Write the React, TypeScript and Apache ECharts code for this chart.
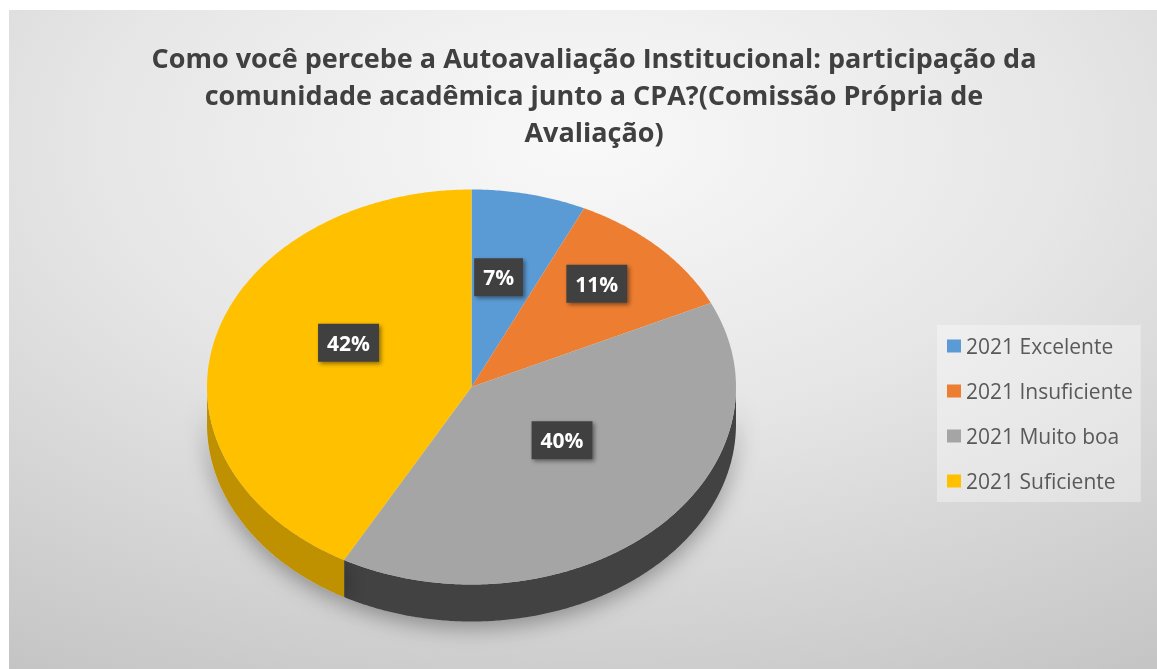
import React, { useEffect, useRef } from "react";
import * as echarts from "echarts";

const CATEGORIES = ["2021 Excelente", "2021 Insuficiente", "2021 Muito boa", "2021 Suficiente"];
const VALUES = [7, 11, 40, 42];
const TITLE_LINES = [
  "Como você percebe a Autoavaliação Institucional: participação da",
  "comunidade acadêmica junto a CPA?(Comissão Própria de",
  "Avaliação)",
];

const TOP_COLORS = ["#5B9BD5", "#ED7D31", "#A5A5A5", "#FFC000"];
const SIDE_COLORS = ["#41719C", "#AE5A21", "#424242", "#BF9000"];
// label placement factors (fraction of radii along the slice's mid angle)
const LABEL_FX = [0.47, 0.67, 0.5, 0.48];
const LABEL_FY = [0.57, 0.74, 0.37, 0.9];

// geometry (chart pixel coordinates)
const CX = 462.5;
const CY = 377;
const RX = 264.5;
const RY = 197.5;
const DEPTH = 37;

const FONT = '"Open Sans", "Noto Sans", sans-serif';

function pt(deg: number, fx = 1, fy = 1, dy = 0): number[] {
  const r = (deg * Math.PI) / 180;
  return [CX + RX * fx * Math.sin(r), CY - RY * fy * Math.cos(r) + dy];
}

function angles(i: number): [number, number] {
  const total = VALUES.reduce((a, b) => a + b, 0);
  let before = 0;
  for (let k = 0; k < i; k++) before += VALUES[k];
  return [(before / total) * 360, ((before + VALUES[i]) / total) * 360];
}

function arc(a0: number, a1: number, dy = 0): number[][] {
  const pts: number[][] = [];
  for (let t = a0; t < a1; t += 0.5) pts.push(pt(t, 1, 1, dy));
  pts.push(pt(a1, 1, 1, dy));
  return pts;
}

export default function App() {
  const ref = useRef<HTMLDivElement>(null);
  useEffect(() => {
    if (!ref.current) return;
    const chart = echarts.init(ref.current, null, { renderer: "svg" });
    const total = VALUES.reduce((a, b) => a + b, 0);
    const option: any = {
      animation: false,
      backgroundColor: new echarts.graphic.RadialGradient(0.5, 0.2, 0.95, [
        { offset: 0, color: "#f9f9f9" },
        { offset: 0.45, color: "#e6e6e6" },
        { offset: 1, color: "#c4c4c4" },
      ]),
      title: {
        text: TITLE_LINES.join("\n"),
        left: 580,
        top: 24,
        textAlign: "center",
        textStyle: {
          fontFamily: FONT,
          fontSize: 27,
          fontWeight: "bold",
          color: "#404040",
          lineHeight: 37,
        },
      },
      legend: {
        orient: "vertical",
        left: 928,
        top: 315,
        icon: "rect",
        itemWidth: 14,
        itemHeight: 13,
        itemGap: 19,
        padding: [8, 8, 8, 10],
        backgroundColor: "rgba(255,255,255,0.35)",
        selectedMode: false,
        data: CATEGORIES,
        textStyle: { fontFamily: FONT, fontSize: 21, color: "#595959", lineHeight: 26 },
      },
      series: [
        {
          type: "pie",
          silent: true,
          center: [-50, -50],
          radius: 1,
          label: { show: false },
          labelLine: { show: false },
          data: CATEGORIES.map((name, i) => ({ name, value: VALUES[i], itemStyle: { color: TOP_COLORS[i] } })),
        },
        {
          type: "custom",
          coordinateSystem: "none",
          silent: true,
          data: VALUES,
          renderItem: (params: any) => {
            const i = params.dataIndex;
            const [a0, a1] = angles(i);
            const children: any[] = [];
            const s0 = Math.max(a0, 90);
            const s1 = Math.min(a1, 270);
            if (s1 > s0) {
              const pts = arc(s0, s1).concat(arc(s0, s1, DEPTH).reverse());
              children.push({
                type: "polygon",
                shape: { points: pts },
                style: {
                  fill: SIDE_COLORS[i],
                  shadowBlur: 22,
                  shadowColor: "rgba(0,0,0,0.35)",
                  shadowOffsetY: 6,
                },
              });
            }
            return { type: "group", children };
          },
        },
        {
          type: "custom",
          coordinateSystem: "none",
          silent: true,
          data: VALUES,
          renderItem: (params: any) => {
            const i = params.dataIndex;
            const [a0, a1] = angles(i);
            const pts = [[CX, CY]].concat(arc(a0, a1));
            return {
              type: "polygon",
              shape: { points: pts },
              style: { fill: TOP_COLORS[i] },
            };
          },
        },
        {
          type: "custom",
          coordinateSystem: "none",
          silent: true,
          data: VALUES,
          renderItem: (params: any) => {
            const i = params.dataIndex;
            const [a0, a1] = angles(i);
            const [x, y] = pt((a0 + a1) / 2, LABEL_FX[i], LABEL_FY[i]);
            return {
              type: "text",
              x,
              y,
              style: {
                text: Math.round((VALUES[i] / total) * 100) + "%",
                fill: "#ffffff",
                font: `bold 21px ${FONT}`,
                align: "center",
                verticalAlign: "middle",
                backgroundColor: "#404040",
                padding: [9, 9, 8, 9],
                shadowBlur: 4,
                shadowColor: "rgba(0,0,0,0.45)",
                shadowOffsetX: 2,
                shadowOffsetY: 2,
              },
            };
          },
        },
      ],
    };
    chart.setOption(option);
    return () => chart.dispose();
  }, []);
  return (
    <div
      ref={ref}
      style={{ position: "fixed", left: 9, top: 10, width: 1148, height: 659 }}
    />
  );
}
